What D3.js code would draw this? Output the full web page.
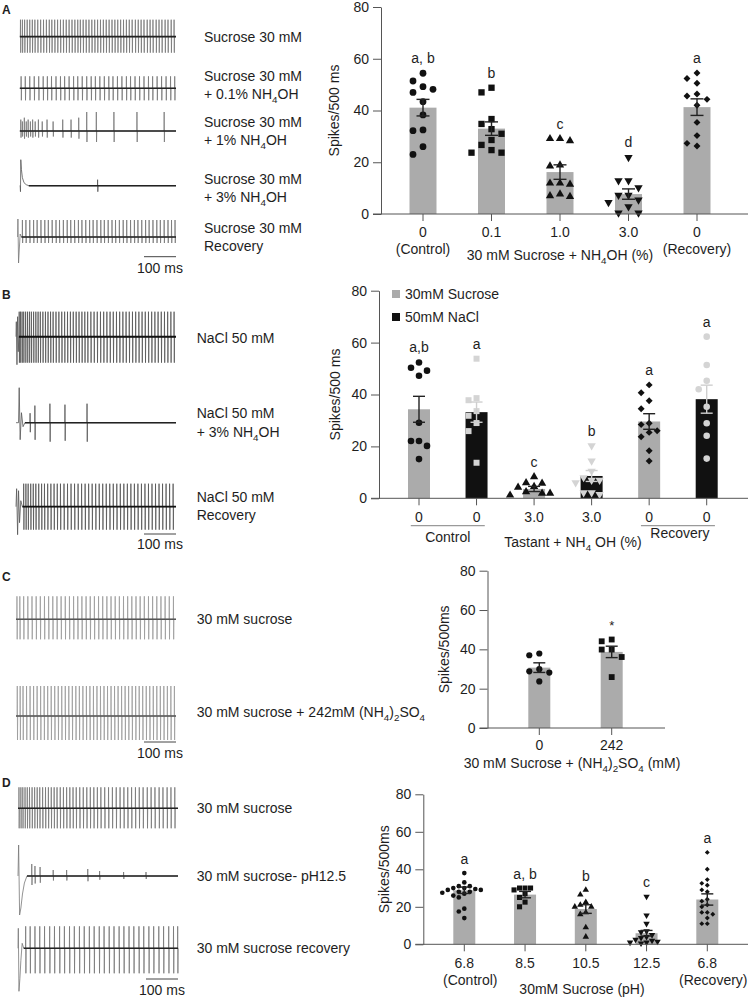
<!DOCTYPE html>
<html><head><meta charset="utf-8">
<script src="https://cdn.jsdelivr.net/npm/d3@7"></script>
<style>
body{margin:0;background:#fff}
svg{display:block;background:#fff}
text{font-family:"Liberation Sans",Arial,Helvetica,sans-serif;fill:#1e1e1e}
</style>
</head><body>
<svg id="fig" width="750" height="1000"></svg>
<script>
// ================= DATA =================
// ---- Panel A (bar chart) ----
const catA = ["0","0.1","1.0","3.0","0"];
const subA = ["(Control)","","","","(Recovery)"];
const meanA = [41.1, 33.0, 16.2, 7.7, 41.3];
const semA = [3.2, 2.6, 2.8, 2.0, 3.2];
const lettersA = ["a, b","b","c","d","a"];
const shapesA = ["circle","square","tri","tridown","diamond"];
const ptsA = [
  [54.4,51.4,49.2,48.2,47,43.4,38.3,32.5,32.2,26,23],
  [48.8,47,36.7,34.8,32.8,31,28.6,26.7,24.7,23.7,23.7],
  [29.1,29.1,28.3,18.9,18.5,11.9,11.9,11.5,7.7,7,6.7],
  [21.9,12.9,12.9,10.2,7.3,7.3,5.4,4.5,2.8,0.4,0.4],
  [54.5,52.4,50.5,46.4,45.6,44.3,42,35.4,30.3,27.3,26.3]
];
// ---- Panel B ----
const catB = ["0","0","3.0","3.0","0","0"];
const seriesB = ["30mM Sucrose","50mM NaCl"];
const groupB = [0,1,0,1,0,1];
const meanB = [34.3, 33.2, 3.6, 8.6, 29.6, 38.2];
const semB = [5.0, 3.9, 1.0, 2.1, 3.0, 5.4];
const lettersB = ["a,b","a","c","b","a","a"];
const shapesB = ["circle","square","tri","tridown","diamond","circle"];
const ptsB = [
  [52.3,50.3,49.2,47.2,29.1,22.1,22.1,20.2,15.1],
  [53.8,38.6,37.8,33.6,31.8,29,25.9,13.7],
  [8.3,6,5.8,4.5,4.2,2.5,1.9,1.9,1.2],
  [20.3,14.4,10.5,8,7,7,6,2.2,2.2,1.5],
  [43.7,40.7,37.6,34.5,28.9,28.4,26,25.4,23.7,18.3,14.4],
  [62.3,51.4,45.3,42,35.3,28.9,24.1,15.3]
];
const groupLabelsB = ["Control","Recovery"];
// ---- Panel C ----
const catC = ["0","242"];
const meanC = [30.7, 38.7];
const semC = [2.45, 2.9];
const lettersC = ["","*"];
const shapesC = ["circle","square"];
const ptsC = [
  [37.9,37,29.9,28.8,28.2,23.7],
  [45,44.1,39.9,39.9,36.1,25.9]
];
// ---- Panel D ----
const catD = ["6.8","8.5","10.5","12.5","6.8"];
const subD = ["(Control)","","","","(Recovery)"];
const meanD = [28.8, 26.5, 18.8, 5.9, 23.9];
const semD = [1.7, 1.7, 2.3, 1.5, 3.0];
const lettersD = ["a","a, b","b","c","a"];
const shapesD = ["circle","square","tri","tridown","diamond"];
const ptsD = [
  [38,33,31,31,30,30,29.5,29,29,28,28,27.5,27,26,25,19,17.5,14],
  [30,30,30,29,27,25,22.5,20],
  [29,26.5,22.5,21,20,20,17,16,9,4],
  [25.5,15.5,11,7,6.5,5,4,3.5,2.5,2,1.5,1,1,0.5],
  [49,40,34.5,32.5,31.5,29,28,24,23,21,20,17,17,16,14,11,11]
];
const yTicks = [0,20,40,60,80];

// ---- Recordings (times in ms, amplitudes in relative units) ----
const onsetA1 = [[12,0]];
const spikesA1 = [14,20,27,35,43,51,59,68,77,86,95,104,112,121,130,139,148,157,166,175,184,193,201,210,219,228,237,246,255,264,273,282,291,300,309,318,327,336,345,354,363,373,382,391,400,410,419,428,438,447,456,466,475,485,494];
const onsetA2 = [[12,0]];
const spikesA2 = [16,29,43,57,71,85,98,111,125,139,152,166,180,193,207,221,235,248,262,276,290,303,317,331,345,358,372,386,400,414,427,441,455,469,483,496];
const onsetA3 = [[12,0]];
const spikesA3 = [[15,0.6],[20,0.5],[26,0.7],[32,0.5],[38,0.6],[45,0.5],[52,0.6],[60,0.5],[70,0.6],[82,0.5],[97,0.6],[116,0.5],[146,0.6],[172,0.6],[196,0.7],[221,1],[251,1],[306,1],[378,1],[463,1]];
const onsetA4 = [[12,0],[13,0],[14,-0.6],[15,2.6],[17,1.6],[20,0.8],[25,0.3],[32,0.1],[40,0]];
const spikesA4 = [[255,1]];
const onsetA5 = [[5,0],[6,1.8],[8,-2.6],[10,-1.4],[13,0.3],[17,0]];
const spikesA5 = [20,31,43,55,66,78,90,101,113,125,136,148,160,171,183,195,206,218,230,241,253,265,276,288,300,311,323,335,346,358,370,381,393,405,416,428,440,451,463,475,486,497];
const ampA = [[1.7,1.6],[1.2,1.2],[1.9,1.1],[0.6,0.6],[1.7,0.6]];

const onsetB1 = [[0,0],[1,1.5],[3,-2.8],[5,2],[7,-1.5],[9,0]];
const spikesB1 = [10,14,19,24,30,36,42,48,55,62,69,76,84,92,100,108,116,125,134,143,152,161,170,179,188,197,206,215,224,234,244,254,264,274,284,294,304,314,324,334,344,354,364,374,384,394,404,414,424,434,444,454,464,474,484,494];
const onsetB2 = [[0,0],[8,0],[10,3.5],[13,-1.7],[17,1.0],[22,-0.4],[28,0]];
const spikesB2 = [[44,0.5],[59,0.9],[106,1],[153,0.95],[222,1]];
const onsetB3 = [[0,0],[2,1.8],[5,-2.8],[8,1.6],[11,-1.6],[15,0.6],[20,0]];
const spikesB3 = [24,31,38,46,54,62,71,80,89,99,109,119,129,139,150,161,172,183,194,205,216,227,238,249,260,271,282,293,304,315,326,337,348,359,370,381,392,403,414,425,436,447,458,469,480,491];
const ampB = [[2.5,2.6],[1.9,1.9],[2.3,2.3]];

const onsetC1 = [[0,0]];
const spikesC1 = [3,12,24,37,50,63,76,89,102,115,128,141,154,167,180,193,206,219,232,245,258,271,284,297,310,323,336,349,362,375,388,401,414,427,440,453,466,479,492];
const onsetC2 = [[0,0]];
const spikesC2 = [4,13,22,33,44,55,66,77,88,99,110,121,132,143,154,165,176,187,198,209,220,231,242,253,264,275,286,297,308,319,330,341,352,363,374,385,396,407,418,429,440,451,462,473,484,495];
const ampC = [[2.3,2.0],[3.0,2.4]];

const onsetD1 = [[0,0]];
const spikesD1 = [3,9,15,22,29,36,44,52,60,68,77,86,95,104,113,122,132,142,152,162,172,182,193,204,215,226,237,248,259,271,283,295,307,319,331,343,355,367,379,391,404,416,428,441,453,466,478,490];
const onsetD2 = [[0,0],[2,3.1],[5,-3.9],[9,-3.2],[14,-1.8],[20,-0.7],[28,0]];
const spikesD2 = [[43,0.6],[53,0.5],[69,0.45],[110,0.3],[152,0.3],[218,0.35],[255,0.25],[330,0.2],[400,0.2]];
const onsetD3 = [[0,0],[1,2.0],[3,-4.3],[6,-3],[9,-1.2],[13,0.5],[18,0]];
const spikesD3 = [24,38,53,68,83,99,114,130,145,161,176,192,207,223,238,254,269,285,300,316,331,347,362,378,393,409,424,440,455,471,486,499];
const ampD = [[2.1,2.0],[2.0,1.5],[2.2,2.5]];

// ================= DRAWING =================
const svg = d3.select("#fig");
const FONT = "'Liberation Sans', Arial, Helvetica, sans-serif";
const AX = "#555";

function rich(g, x, y, parts, o = {}) {
  const fs = o.fs || 14;
  const t = g.append("text").attr("x", x).attr("y", y).attr("font-size", fs)
    .attr("text-anchor", o.anchor || "start").attr("dy", "0.35em");
  let down = false;
  parts.forEach(p => {
    const sub = p[0] === "_";
    const s = t.append("tspan").text(sub ? p.slice(1) : p);
    if (sub) { s.attr("font-size", fs * 0.7); if (!down) { s.attr("dy", fs * 0.28); down = true; } }
    else if (down) { s.attr("dy", -fs * 0.28); down = false; }
  });
  return t;
}

const symType = {circle: d3.symbolCircle, square: d3.symbolSquare, tri: d3.symbolTriangle, tridown: d3.symbolTriangle, diamond: d3.symbolSquare};
const symRot = {circle: 0, square: 0, tri: 0, tridown: 180, diamond: 45};

function swarm(vals, y, step, minDy) {
  const placed = [];
  const order = [0,-1,1,-2,2,-3,3,-4,4,-5,5];
  vals.map(v => ({v, py: y(v)})).sort((a,b) => b.v - a.v).forEach(p => {
    for (const k of order) {
      const dx = k * step;
      if (!placed.some(q => Math.abs(q.dx - dx) < step * 0.9 && Math.abs(q.py - p.py) < minDy)) {
        p.dx = dx; placed.push(p); break;
      }
    }
  });
  return placed;
}

function barChart(c) {
  const g = svg.append("g");
  const y = d3.scaleLinear().domain([0, 80]).range([c.yB, c.yT]);
  const x = d3.scalePoint().domain(d3.range(c.cats.length)).range([c.c0, c.c1]);
  g.selectAll(".bar").data(c.means).join("rect")
    .attr("x", (d,i) => x(i) - c.bw/2).attr("width", c.bw)
    .attr("y", d => y(d)).attr("height", d => y(0) - y(d))
    .attr("fill", (d,i) => c.barFill[i]);
  c.pts.forEach((vals, i) => {
    const sw = swarm(vals, y, c.step, c.minDy);
    g.append("g").selectAll("path").data(sw).join("path")
      .attr("d", d3.symbol().type(symType[c.shapes[i]]).size(c.sizes[c.shapes[i]]))
      .attr("transform", d => `translate(${x(i) + d.dx},${d.py}) rotate(${symRot[c.shapes[i]]})`)
      .attr("fill", c.ptFill[i]);
  });
  c.means.forEach((m, i) => {
    const lo = y(m - c.sems[i]), hi = y(m + c.sems[i]), cx = x(i), hw = c.cap;
    const eg = g.append("g").attr("stroke", c.errCol[i]).attr("stroke-width", 1.4).attr("fill", "none");
    eg.append("line").attr("x1", cx).attr("x2", cx).attr("y1", lo).attr("y2", hi);
    eg.append("line").attr("x1", cx - hw).attr("x2", cx + hw).attr("y1", lo).attr("y2", lo);
    eg.append("line").attr("x1", cx - hw).attr("x2", cx + hw).attr("y1", hi).attr("y2", hi);
  });
  c.letters.forEach((L, i) => {
    if (!L) return;
    const top = y(d3.max(c.pts[i]));
    g.append("text").attr("x", x(i)).attr("y", top - c.gap).attr("dy", "0.35em")
      .attr("text-anchor", "middle").attr("font-size", c.letterFs || 14).text(L);
  });
  const ya = g.append("g").attr("transform", `translate(${c.ax},0)`)
    .call(d3.axisLeft(y).tickValues(yTicks).tickSize(8).tickSizeOuter(0).tickPadding(4));
  ya.attr("font-family", FONT).attr("font-size", 14);
  ya.select(".domain").attr("stroke", AX);
  ya.selectAll(".tick line").attr("stroke", AX);
  ya.selectAll(".tick text").attr("fill", "#1e1e1e");
  g.append("line").attr("x1", c.ax - 8).attr("x2", c.xEnd).attr("y1", y(0)).attr("y2", y(0)).attr("stroke", AX);
  g.selectAll(".xt").data(c.cats).join("line")
    .attr("x1", (d,i) => x(i)).attr("x2", (d,i) => x(i))
    .attr("y1", y(0)).attr("y2", y(0) + 7).attr("stroke", AX);
  g.selectAll(".xl").data(c.cats).join("text")
    .attr("x", (d,i) => x(i)).attr("y", y(0) + c.tickDy).attr("dy", "0.35em")
    .attr("text-anchor", "middle").attr("font-size", 14).text(d => d);
  g.append("text").attr("transform", `translate(${c.ylx},${(c.yT + c.yB)/2}) rotate(-90)`)
    .attr("text-anchor", "middle").attr("dy", "0.35em").attr("font-size", 14).text(c.ylabel);
  return {x, y, g};
}

const GRAY = "#ababab", BLACK = "#111", LIGHT = "#d4d4d4";

// ---- Chart A ----
const chA = barChart({
  cats: catA, means: meanA, sems: semA, pts: ptsA, shapes: shapesA, letters: lettersA,
  ax: 381, xEnd: 748, c0: 423, c1: 697, yT: 7, yB: 214, bw: 27, cap: 6.5,
  barFill: catA.map(() => GRAY), ptFill: catA.map(() => BLACK), errCol: catA.map(() => "#222"),
  sizes: {circle: 36, square: 40, tri: 30, tridown: 30, diamond: 24}, step: 10, minDy: 10, gap: 15,
  tickDy: 18, ylx: 334, ylabel: "Spikes/500 ms"
});
subA.forEach((s, i) => { if (s) chA.g.append("text").attr("x", chA.x(i)).attr("y", chA.y(0) + 35).attr("dy","0.35em").attr("text-anchor","middle").attr("font-size",14).text(s); });
rich(chA.g, 560, chA.y(0) + 41, ["30 mM Sucrose + NH", "_4", "OH (%)"], {anchor: "middle"});

// ---- Chart B ----
const chB = barChart({
  cats: catB, means: meanB, sems: semB, pts: ptsB, shapes: shapesB, letters: lettersB,
  ax: 379, xEnd: 748, c0: 419, c1: 706.7, yT: 290.7, yB: 498.3, bw: 22, cap: 6,
  barFill: groupB.map(g => g ? BLACK : GRAY), ptFill: groupB.map(g => g ? LIGHT : BLACK),
  errCol: groupB.map(g => g ? "#cfcfcf" : "#222"),
  sizes: {circle: 34, square: 36, tri: 30, tridown: 30, diamond: 24}, step: 8, minDy: 9, gap: 15,
  tickDy: 18.4, ylx: 335, ylabel: "Spikes/500 ms"
});
[[0,1],[4,5]].forEach((pair, k) => {
  const mid = (chB.x(pair[0]) + chB.x(pair[1])) / 2;
  chB.g.append("line").attr("x1", mid - 37).attr("x2", mid + 37).attr("y1", chB.y(0) + 27.4).attr("y2", chB.y(0) + 27.4)
    .attr("stroke", "#9a9a9a").attr("stroke-width", 1.3);
  chB.g.append("text").attr("x", mid + (k ? 2 : 0)).attr("y", chB.y(0) + (k ? 35 : 38.5)).attr("dy","0.35em")
    .attr("text-anchor","middle").attr("font-size",14).text(groupLabelsB[k]);
});
rich(chB.g, 573, chB.y(0) + 43.4, ["Tastant + NH", "_4", " OH (%)"], {anchor: "middle"});
seriesB.forEach((s, k) => {
  const ly = 294 + k * 23;
  chB.g.append("rect").attr("x", 392).attr("y", ly - 4).attr("width", 8).attr("height", 8).attr("fill", k ? BLACK : GRAY);
  chB.g.append("text").attr("x", 405).attr("y", ly).attr("dy","0.35em").attr("font-size",14).text(s);
});

// ---- Chart C ----
const chC = barChart({
  cats: catC, means: meanC, sems: semC, pts: ptsC, shapes: shapesC, letters: lettersC,
  ax: 487.5, xEnd: 665, c0: 539.3, c1: 611.7, yT: 570.7, yB: 728, bw: 22, cap: 6,
  barFill: catC.map(() => GRAY), ptFill: catC.map(() => BLACK), errCol: catC.map(() => "#222"),
  sizes: {circle: 30, square: 34}, step: 10, minDy: 8, gap: 14, letterFs: 13,
  tickDy: 17, ylx: 444, ylabel: "Spikes/500ms"
});
rich(chC.g, 572, chC.y(0) + 35, ["30 mM Sucrose + (NH", "_4", ")", "_2", "SO", "_4", " (mM)"], {anchor: "middle"});

// ---- Chart D ----
const chD = barChart({
  cats: catD, means: meanD, sems: semD, pts: ptsD, shapes: shapesD, letters: lettersD,
  ax: 423.3, xEnd: 748, c0: 464.3, c1: 707.3, yT: 794.3, yB: 944.3, bw: 22, cap: 6,
  barFill: catD.map(() => GRAY), ptFill: catD.map(() => BLACK), errCol: catD.map(() => "#222"),
  sizes: {circle: 17, square: 26, tri: 18, tridown: 18, diamond: 12}, step: 5.5, minDy: 5, gap: 14,
  tickDy: 19, ylx: 384, ylabel: "Spikes/500ms"
});
subD.forEach((s, i) => { if (s) chD.g.append("text").attr("x", chD.x(i) + 6).attr("y", chD.y(0) + 36).attr("dy","0.35em").attr("text-anchor","middle").attr("font-size",14).text(s); });
chD.g.append("text").attr("x", 582).attr("y", chD.y(0) + 45).attr("dy","0.35em").attr("text-anchor","middle").attr("font-size",14).text("30mM Sucrose (pH)");

// ---- Recordings ----
function drawTrace(x0, base, onset, spikes, amp, col, baseCol, bw) {
  const t = d3.scaleLinear().domain([0, 500]).range([x0, x0 + 160]);
  const v = d3.scaleLinear().domain([-1, 1]).range([base + 10, base - 10]);
  const pts = onset.slice();
  const tStart = onset[onset.length - 1][0];
  spikes.forEach(s => {
    const [tm, a] = Array.isArray(s) ? s : [s, 1];
    if (tm <= tStart) return;
    pts.push([tm - 0.5, 0], [tm, a * amp[0]], [tm + 0.7, -a * amp[1]], [tm + 1.4, 0]);
  });
  pts.push([500, 0]);
  const line = d3.line().x(d => t(d[0])).y(d => v(d[1]));
  svg.append("path").attr("d", line(pts)).attr("fill", "none").attr("stroke", col).attr("stroke-width", 0.8);
  svg.append("line").attr("x1", t(tStart)).attr("x2", t(500)).attr("y1", base).attr("y2", base)
    .attr("stroke", baseCol).attr("stroke-width", bw);
}
function scaleBar(x0, yb, ty) {
  const t = d3.scaleLinear().domain([0, 500]).range([x0, x0 + 160]);
  svg.append("line").attr("x1", t(400)).attr("x2", t(500)).attr("y1", yb).attr("y2", yb).attr("stroke", "#444").attr("stroke-width", 1);
  svg.append("text").attr("x", t(450)).attr("y", ty).attr("dy","0.35em").attr("text-anchor","middle").attr("font-size",14).text("100 ms");
}
function panelLetter(L, y) {
  svg.append("text").attr("x", 2).attr("y", y).attr("dy","0.35em").attr("font-size",12).attr("font-weight","bold").text(L);
}
const lab = (x, y, parts) => rich(svg, x, y, parts, {});

// Panel A recordings
panelLetter("A", 10);
drawTrace(16, 36.7, onsetA1, spikesA1, ampA[0], "#777", "#222", 1.8);
drawTrace(16, 88.3, onsetA2, spikesA2, ampA[1], "#777", "#222", 1.6);
drawTrace(16, 131, onsetA3, spikesA3, ampA[2], "#777", "#222", 1.6);
drawTrace(16, 185.7, onsetA4, spikesA4, ampA[3], "#555", "#222", 1.4);
drawTrace(16, 237, onsetA5, spikesA5, ampA[4], "#777", "#222", 1.6);
lab(204, 36.7, ["Sucrose 30 mM"]);
lab(204, 76, ["Sucrose 30 mM"]); lab(204, 94.3, ["+ 0.1% NH", "_4", "OH"]);
lab(204, 121.7, ["Sucrose 30 mM"]); lab(204, 140, ["+ 1% NH", "_4", "OH"]);
lab(204, 179, ["Sucrose 30 mM"]); lab(204, 196.7, ["+ 3% NH", "_4", "OH"]);
lab(204, 227.7, ["Sucrose 30 mM"]); lab(204, 246, ["Recovery"]);
scaleBar(16, 256.7, 268);

// Panel B recordings
panelLetter("B", 295);
drawTrace(16, 336.7, onsetB1, spikesB1, ampB[0], "#555", "#111", 2);
drawTrace(16, 422.7, onsetB2, spikesB2, ampB[1], "#555", "#222", 1.4);
drawTrace(16, 506.7, onsetB3, spikesB3, ampB[2], "#555", "#111", 1.8);
lab(196.7, 338, ["NaCl 50 mM"]);
lab(196.7, 413, ["NaCl 50 mM"]); lab(196.7, 432, ["+ 3% NH", "_4", "OH"]);
lab(196.7, 497, ["NaCl 50 mM"]); lab(196.7, 515, ["Recovery"]);
scaleBar(16, 534, 544);

// Panel C recordings
panelLetter("C", 576.7);
drawTrace(16, 619.3, onsetC1, spikesC1, ampC[0], "#9a9a9a", "#555", 1.4);
drawTrace(16, 716, onsetC2, spikesC2, ampC[1], "#9a9a9a", "#555", 1.4);
lab(196.7, 619.3, ["30 mM sucrose"]);
lab(196.7, 712, ["30 mM sucrose + 242mM (NH", "_4", ")", "_2", "SO", "_4"]);
scaleBar(16, 742, 753);

// Panel D recordings
panelLetter("D", 782.7);
drawTrace(18, 808.3, onsetD1, spikesD1, ampD[0], "#777", "#222", 1.6);
drawTrace(18, 876, onsetD2, spikesD2, ampD[1], "#777", "#222", 1.4);
drawTrace(18, 948.3, onsetD3, spikesD3, ampD[2], "#777", "#222", 1.6);
lab(196.7, 808.3, ["30 mM sucrose"]);
lab(196.7, 876, ["30 mM sucrose- pH12.5"]);
lab(196.7, 948.3, ["30 mM sucrose recovery"]);
scaleBar(18, 979, 990);
</script>
</body></html>
